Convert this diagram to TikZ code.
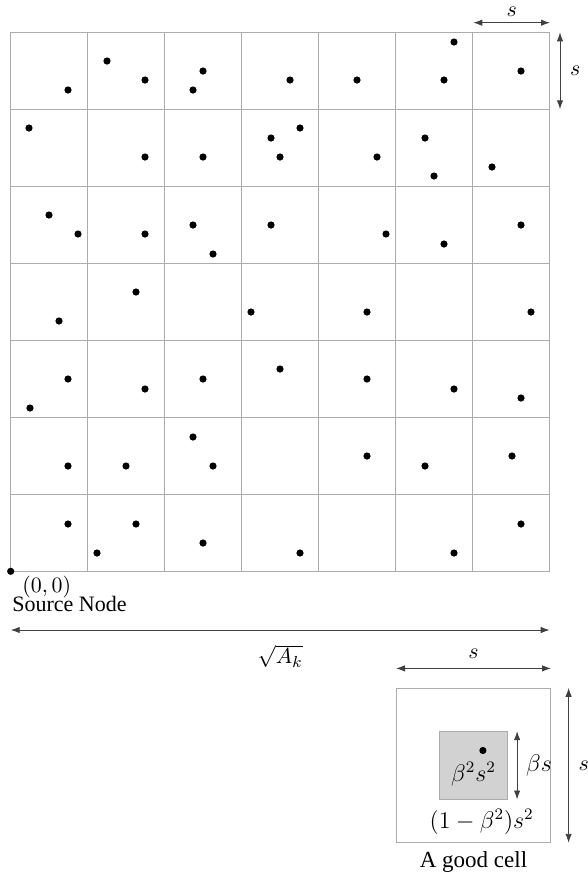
\documentclass[tikz,border=0pt]{standalone}
\usepackage{amsmath,amssymb}
\usepackage{fontspec}
\setmainfont{Liberation Serif}
\usetikzlibrary{arrows.meta,positioning}

\begin{document}
\begin{tikzpicture}[>={Latex[length=4.5pt,width=3.2pt]},x=0.5pt,y=-0.5pt,
  font=\fontsize{11}{13}\selectfont,
  gridline/.style={gray!65,line width=0.5pt},
  dimarrow/.style={<->,black!75,line width=0.45pt},
  cellbox/.style={draw=gray!65,line width=0.5pt,inner sep=0pt}]
  \useasboundingbox (0,0) rectangle (588,875);
  \foreach \i in {0,...,7} {
    \draw[gridline] (10.7+77*\i,32.3) -- (10.7+77*\i,571.3);
    \draw[gridline] (10.7,32.3+77*\i) -- (549.7,32.3+77*\i);
  }
  \foreach \px/\py in {68/90,107/61,145/80,203/71,193/90,290/80,357/80,454/42,444/80,521/71,
      29/128,145/157,203/157,271/138,300/128,280/157,377/157,425/138,434/176,492/167,
      49/215,78/234,145/234,193/225,213/254,271/225,386/234,444/244,521/225,
      136/292,59/321,251/312,367/312,531/312,
      68/379,30/408,145/389,203/379,280/369,367/379,454/389,521/398,
      193/437,68/466,126/466,213/466,367/456,425/466,512/456,
      68/524,136/524,97/553,203/543,300/553,454/553,521/524}
    \fill (\px,\py) circle (1.8pt);
  \fill (10.7,571.3) coordinate (src) circle (1.8pt);
  \node[anchor=west,inner sep=0pt] (orig) at (22,587) {$(0,0)$};
  \node[anchor=west,inner sep=0pt] (srcname) at (12,604) {Source Node};
  \coordinate (tA) at (473.3,22.7);
  \coordinate (tB) at (550,22.7);
  \draw[dimarrow] (tA) -- node[above=-0.5pt,black] {$s$} (tB);
  \coordinate (rA) at (560,32.3);
  \coordinate (rB) at (560,109.3);
  \draw[dimarrow] (rA) -- node[right=1.5pt,black] {$s$} (rB);
  \coordinate (wA) at (10.7,630);
  \coordinate (wB) at (549.7,630);
  \draw[dimarrow] (wA) -- node[below=4pt,black] {$\sqrt{A_k}$} (wB);
  \node[cellbox,minimum size=77pt] (good) at (473.5,765.3) {};
  \node[cellbox,fill=gray!35,minimum size=33.7pt] (inner) at (good.center) {};
  \fill ([xshift=4.7pt,yshift=7.4pt]inner.center) coordinate (gooddot) circle (1.8pt);
  \node[font=\large] (area) at ([yshift=-4.5pt]inner.center) {$\beta^2s^2$};
  \node[font=\large] at (481.7,821.7) (rest) {$(1-\beta^2)s^2$};
  \node[below=1pt of good,font=\fontsize{11.5}{13}\selectfont] (cellname) {A good cell};
  \draw[dimarrow] ([yshift=9.7pt]good.north west) -- node[above=1.5pt,black] {$s$} ([yshift=9.7pt]good.north east);
  \draw[dimarrow] ([xshift=8.8pt]good.north east) -- node[right=1.5pt,black] {$s$} ([xshift=8.8pt]good.south east);
  \draw[dimarrow] ([xshift=4.7pt]inner.north east) -- node[right=1pt,black,font=\large] {$\beta s$} ([xshift=4.7pt]inner.south east);
\end{tikzpicture}
\end{document}
